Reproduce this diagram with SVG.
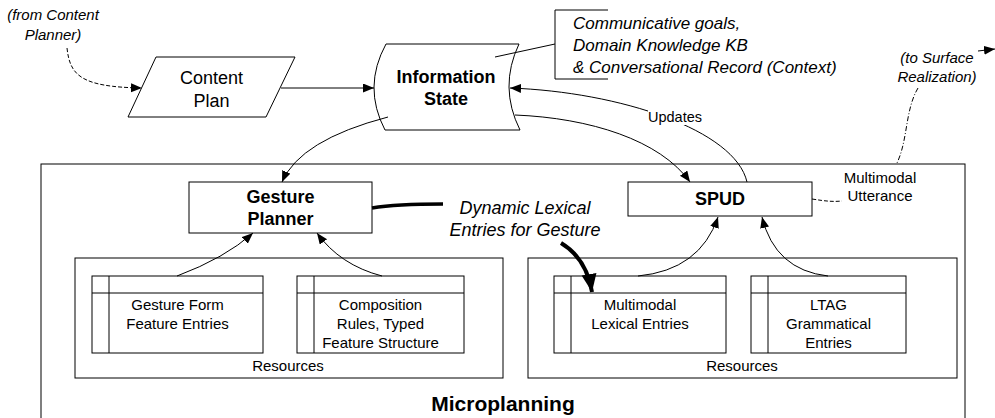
<svg xmlns="http://www.w3.org/2000/svg" width="995" height="418" viewBox="0 0 995 418">
<style>
text{font-family:"Liberation Sans",Arial,sans-serif;fill:#000}
.box{fill:#fff;stroke:#000;stroke-width:1}
.frame{fill:none;stroke:#000;stroke-width:1}
.c{fill:none;stroke:#000;stroke-width:1}
.arr{marker-end:url(#ah)}
.dash{stroke-dasharray:4,2}
.bold{font-weight:bold}
.it{font-style:italic}
.t18{font-size:18px}
.t15{font-size:15px}
.mid{text-anchor:middle}
</style>
<defs>
<marker id="ah" markerUnits="userSpaceOnUse" markerWidth="12" markerHeight="10" refX="11" refY="4.5" orient="auto">
<path d="M0,0 L11,4.5 L0,9 z" fill="#000"/>
</marker>
<marker id="ahBig" markerUnits="userSpaceOnUse" markerWidth="20" markerHeight="16" refX="18" refY="7.5" orient="auto">
<path d="M0,0 L18,7.5 L0,15 z" fill="#000"/>
</marker>
</defs>

<g id="microplanning">
<rect class="frame" x="41" y="164" width="924" height="300"/>
<text class="bold mid" x="503" y="411" font-size="21">Microplanning</text>
</g>

<g id="resources-left">
<rect class="frame" x="75" y="258" width="428" height="120"/>
<text class="t15 mid" x="288" y="371">Resources</text>
</g>
<g id="resources-right">
<rect class="frame" x="528" y="258" width="429" height="120"/>
<text class="t15 mid" x="742" y="371">Resources</text>
</g>

<g id="gesture-form">
<rect class="box" x="92" y="276" width="171" height="77"/>
<path class="c" d="M92,293 H263 M109,276 V353"/>
<text class="t15 mid" x="177.5" y="310">Gesture Form</text>
<text class="t15 mid" x="177.5" y="329">Feature Entries</text>
</g>
<g id="composition">
<rect class="box" x="297" y="276" width="167" height="77"/>
<path class="c" d="M297,293 H464 M314,276 V353"/>
<text class="t15 mid" x="380.5" y="310">Composition</text>
<text class="t15 mid" x="380.5" y="329">Rules, Typed</text>
<text class="t15 mid" x="380.5" y="348">Feature Structure</text>
</g>
<g id="multimodal-lexical">
<rect class="box" x="554" y="276" width="172" height="77"/>
<path class="c" d="M554,293 H726 M571,276 V353"/>
<text class="t15 mid" x="640" y="310">Multimodal</text>
<text class="t15 mid" x="640" y="329">Lexical Entries</text>
</g>
<g id="ltag">
<rect class="box" x="751" y="276" width="155" height="77"/>
<path class="c" d="M751,293 H906 M768,276 V353"/>
<text class="t15 mid" x="828.5" y="310">LTAG</text>
<text class="t15 mid" x="828.5" y="329">Grammatical</text>
<text class="t15 mid" x="828.5" y="348">Entries</text>
</g>

<g id="gesture-planner">
<rect class="box" x="189" y="182" width="183" height="51"/>
<text class="bold t18 mid" x="280.5" y="202.5">Gesture</text>
<text class="bold t18 mid" x="280.5" y="224.5">Planner</text>
</g>
<g id="spud">
<rect class="box" x="628" y="182" width="184" height="34"/>
<text class="bold t18 mid" x="720" y="205">SPUD</text>
</g>

<g id="content-plan">
<path class="box" d="M156,57 L295,57 L266,117 L128,117 Z"/>
<text class="t18 mid" x="211.5" y="83.5">Content</text>
<text class="t18 mid" x="211.5" y="106.5">Plan</text>
</g>

<g id="information-state">
<path class="box" d="M386,44 L519,44 Q498.5,87 520,130 L385,130 Q362.5,87 386,44 Z"/>
<text class="bold t18 mid" x="446" y="82.5">Information</text>
<text class="bold t18 mid" x="446" y="104.5">State</text>
</g>

<g id="context-note">
<path class="c" d="M608,10 L555,10 L555,79 L608,79"/>
<text class="it mid" x="0" y="0" font-size="17" style="text-anchor:start"><tspan x="573" y="29">Communicative goals,</tspan><tspan x="573" y="51">Domain Knowledge KB</tspan><tspan x="573" y="73">&amp; Conversational Record (Context)</tspan></text>
</g>

<g id="labels">
<text class="it t15 mid" x="53" y="20">(from Content</text>
<text class="it t15 mid" x="53" y="40">Planner)</text>
<text class="it t15 mid" x="937" y="63">(to Surface</text>
<text class="it t15 mid" x="937" y="82">Realization)</text>
<text class="t15 mid" x="880" y="183">Multimodal</text>
<text class="t15 mid" x="880" y="201">Utterance</text>
<text class="it t18 mid" x="525" y="214">Dynamic Lexical</text>
<text class="it t18 mid" x="525" y="236">Entries for Gesture</text>
</g>

<g id="connectors">
<path class="c" d="M555,44 L495,57"/>
<path class="c dash arr" d="M67,48 C70,75 80,87 142,88"/>
<path class="c arr" d="M281,88 L374,88"/>
<path class="c arr" d="M388,117 Q300,140 282,182"/>
<path class="c arr" d="M515,115 C590,118 660,140 690,182"/>
<path class="c arr" d="M747,182 C735,130 620,92 510,88"/>
<rect x="648" y="105" width="54" height="20" fill="#fff"/>
<text class="mid" x="675" y="122" font-size="14.5">Updates</text>
<path class="c arr" d="M177,276 Q225,258 253,233"/>
<path class="c arr" d="M382,276 Q340,265 317,233"/>
<path class="c arr" d="M638,276 Q700,270 718,217"/>
<path class="c arr" d="M828,276 Q775,270 762,217"/>
<path class="c" stroke-width="3.5" d="M372,208 C390,205 420,204 443,204" style="stroke-width:3.5"/>
<path class="c" style="stroke-width:4;marker-end:url(#ahBig)" d="M561,243 C576,252 588,268 592,292"/>
<path class="c dash" d="M812,199 C825,201 832,202 842,201"/>
<path class="c" style="stroke-dasharray:5,2,1,2" d="M918,88 C905,110 908,140 897,163"/>
<path class="c arr" d="M978,51 L995,49"/>
</g>
</svg>
